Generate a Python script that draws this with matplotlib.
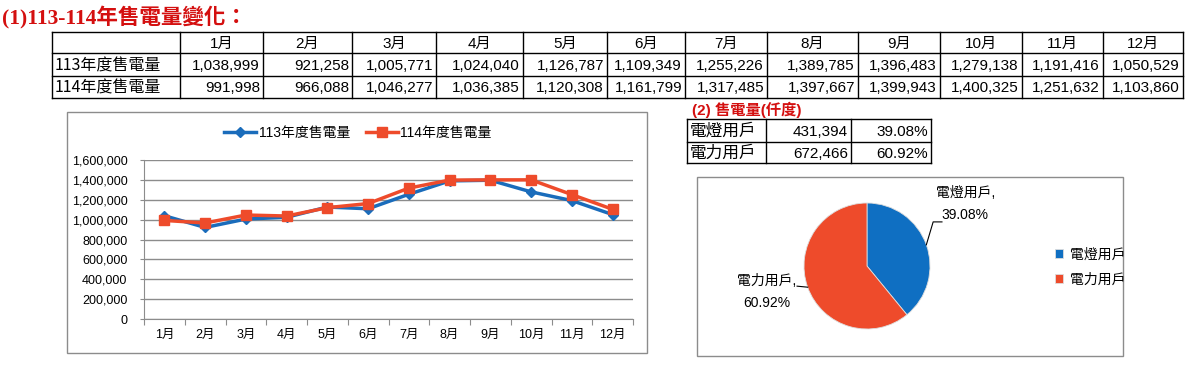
import numpy as np
import matplotlib
matplotlib.use("Agg")
import matplotlib.pyplot as plt
from matplotlib.patches import Rectangle
from matplotlib.ticker import FuncFormatter

plt.rcParams['font.family'] = ['Liberation Sans', 'Noto Sans CJK TC']

# data
months = ['1月', '2月', '3月', '4月', '5月', '6月', '7月', '8月', '9月', '10月', '11月', '12月']
series_names = ['113年度售電量', '114年度售電量']
sales_113 = [1038999, 921258, 1005771, 1024040, 1126787, 1109349,
             1255226, 1389785, 1396483, 1279138, 1191416, 1050529]
sales_114 = [991998, 966088, 1046277, 1036385, 1120308, 1161799,
             1317485, 1397667, 1399943, 1400325, 1251632, 1103860]
user_types = ['電燈用戶', '電力用戶']
user_sales = [431394, 672466]

BLUE = '#1a6cbb'
PIE_BLUE = '#0f6fc2'
RED = '#ee4b2b'
GREY = '#8c8c8c'
TITLE_RED = '#d40f0f'

W, H = 1186, 366
fig = plt.figure(figsize=(W / 100, H / 100), dpi=100)
fig.patch.set_facecolor('white')

# background axes in pixel coords for tables and frames
bg = fig.add_axes([0, 0, 1, 1])
bg.set_xlim(0, W)
bg.set_ylim(H, 0)
bg.axis('off')


def px_axes(x0, y0, x1, y1):
    return fig.add_axes([x0 / W, 1 - y1 / H, (x1 - x0) / W, (y1 - y0) / H])


def draw_grid(xs, ys, lw=1.0):
    for x in xs:
        bg.plot([x, x], [ys[0], ys[-1]], color='black', lw=lw)
    for y in ys:
        bg.plot([xs[0], xs[-1]], [y, y], color='black', lw=lw)


# title (1)
bg.text(2, 17, '(1)113-114年售電量變化：', color=TITLE_RED, fontsize=15.5, fontweight='bold',
        family=['Liberation Serif', 'Noto Sans CJK TC'], va='center', ha='left')

# top table
col_x = [52, 180, 263, 352, 436, 523, 607, 685, 767, 858, 940, 1022, 1103, 1183]
row_y = [32, 53, 76, 98]
draw_grid(col_x, row_y)
for i, m in enumerate(months):
    xc = (col_x[i + 1] + col_x[i + 2]) / 2
    bg.text(xc, (row_y[0] + row_y[1]) / 2 + 1, m, ha='center', va='center', fontsize=11)
for r, (name, vals) in enumerate(zip(series_names, [sales_113, sales_114])):
    yc = (row_y[r + 1] + row_y[r + 2]) / 2 + 1
    bg.text(col_x[0] + 3, yc, name, ha='left', va='center', fontsize=11.5,
            family='Noto Sans CJK TC')
    for i, v in enumerate(vals):
        bg.text(col_x[i + 2] - 3, yc, f'{v:,}', ha='right', va='center', fontsize=11)

# line chart
bg.add_patch(Rectangle((67, 112), 580, 241, fill=False, edgecolor=GREY, lw=1))
ax = px_axes(144, 160, 633, 319)
x = np.arange(len(months))
ax.plot(x, sales_113, color=BLUE, lw=2.5, marker='D', ms=5.5, label=series_names[0], zorder=3)
ax.plot(x, sales_114, color=RED, lw=2.5, marker='s', ms=7, label=series_names[1], zorder=4)
ax.set_xlim(-0.5, len(months) - 0.5)
ax.set_ylim(0, 1600000)
ax.set_yticks(np.arange(0, 1600001, 200000))
ax.yaxis.set_major_formatter(FuncFormatter(lambda v, p: f'{v:,.0f}'))
ax.set_xticks(np.arange(-0.5, len(months), 1))
ax.set_xticklabels([])
ax.set_xticks(x, minor=True)
ax.set_xticklabels(months, minor=True)
ax.tick_params(axis='x', which='major', length=4, color=GREY, direction='out')
ax.tick_params(axis='x', which='minor', length=0, pad=7, labelsize=9)
ax.tick_params(axis='y', length=3, color=GREY, pad=9, labelsize=9)
ax.grid(axis='y', color=GREY, lw=1)
ax.set_axisbelow(True)
for s in ['top', 'right']:
    ax.spines[s].set_visible(False)
for s in ['left', 'bottom']:
    ax.spines[s].set_color(GREY)
ax.legend(loc='center', bbox_to_anchor=(358 / W, 1 - 133 / H), bbox_transform=fig.transFigure,
          ncol=2, frameon=False, fontsize=10, numpoints=1, handlelength=2.3,
          handletextpad=0.2, columnspacing=1.1)

# section (2)
bg.text(692, 110, '(2) 售電量(仟度)', color=TITLE_RED, fontsize=11, fontweight='bold',
        family=['Liberation Sans', 'Noto Sans CJK TC'], va='center', ha='left')
total = sum(user_sales)
s_col = [687, 766, 851, 931]
s_row = [119, 142, 163]
draw_grid(s_col, s_row)
for r, (name, v) in enumerate(zip(user_types, user_sales)):
    yc = (s_row[r] + s_row[r + 1]) / 2 + 1
    bg.text(s_col[0] + 3, yc, name, ha='left', va='center', fontsize=12, family='Noto Sans CJK TC')
    bg.text(s_col[2] - 3, yc, f'{v:,}', ha='right', va='center', fontsize=11)
    bg.text(s_col[3] - 3, yc, f'{v / total * 100:.2f}%', ha='right', va='center', fontsize=11)

# pie chart
bg.add_patch(Rectangle((697, 177), 426, 179, fill=False, edgecolor=GREY, lw=1))
axp = px_axes(804, 203, 930, 329)
wedges, _ = axp.pie(user_sales, colors=[PIE_BLUE, RED], startangle=90, counterclock=False,
                    radius=1, wedgeprops=dict(edgecolor='#dddddd', lw=0.6))
axp.set_xlim(-1, 1)
axp.set_ylim(-1, 1)
axp.axis('off')

label_pos = [(1.56, 0.98), (-1.595, -0.41)]
leader_pts = [[(1.05, 0.70), (1.19, 0.70)], [(-1.11, -0.32)]]
for w, name, v, lp, pts in zip(wedges, user_types, user_sales, label_pos, leader_pts):
    ang = np.deg2rad((w.theta1 + w.theta2) / 2)
    xs = [np.cos(ang)] + [p[0] for p in pts]
    ys = [np.sin(ang)] + [p[1] for p in pts]
    axp.plot(xs, ys, color='black', lw=0.8, clip_on=False)
    axp.text(lp[0], lp[1], f'{name},\n{v / total * 100:.2f}%', ha='center', va='center',
             fontsize=10, linespacing=1.7, clip_on=False)

axp.legend(wedges, user_types, loc='center left', bbox_to_anchor=(1042 / W, 1 - 267 / H),
           bbox_transform=fig.transFigure, frameon=False, fontsize=10, handlelength=0.6,
           handleheight=0.6, handletextpad=0.5, labelspacing=0.8)

fig.savefig('out.png', dpi=100)
